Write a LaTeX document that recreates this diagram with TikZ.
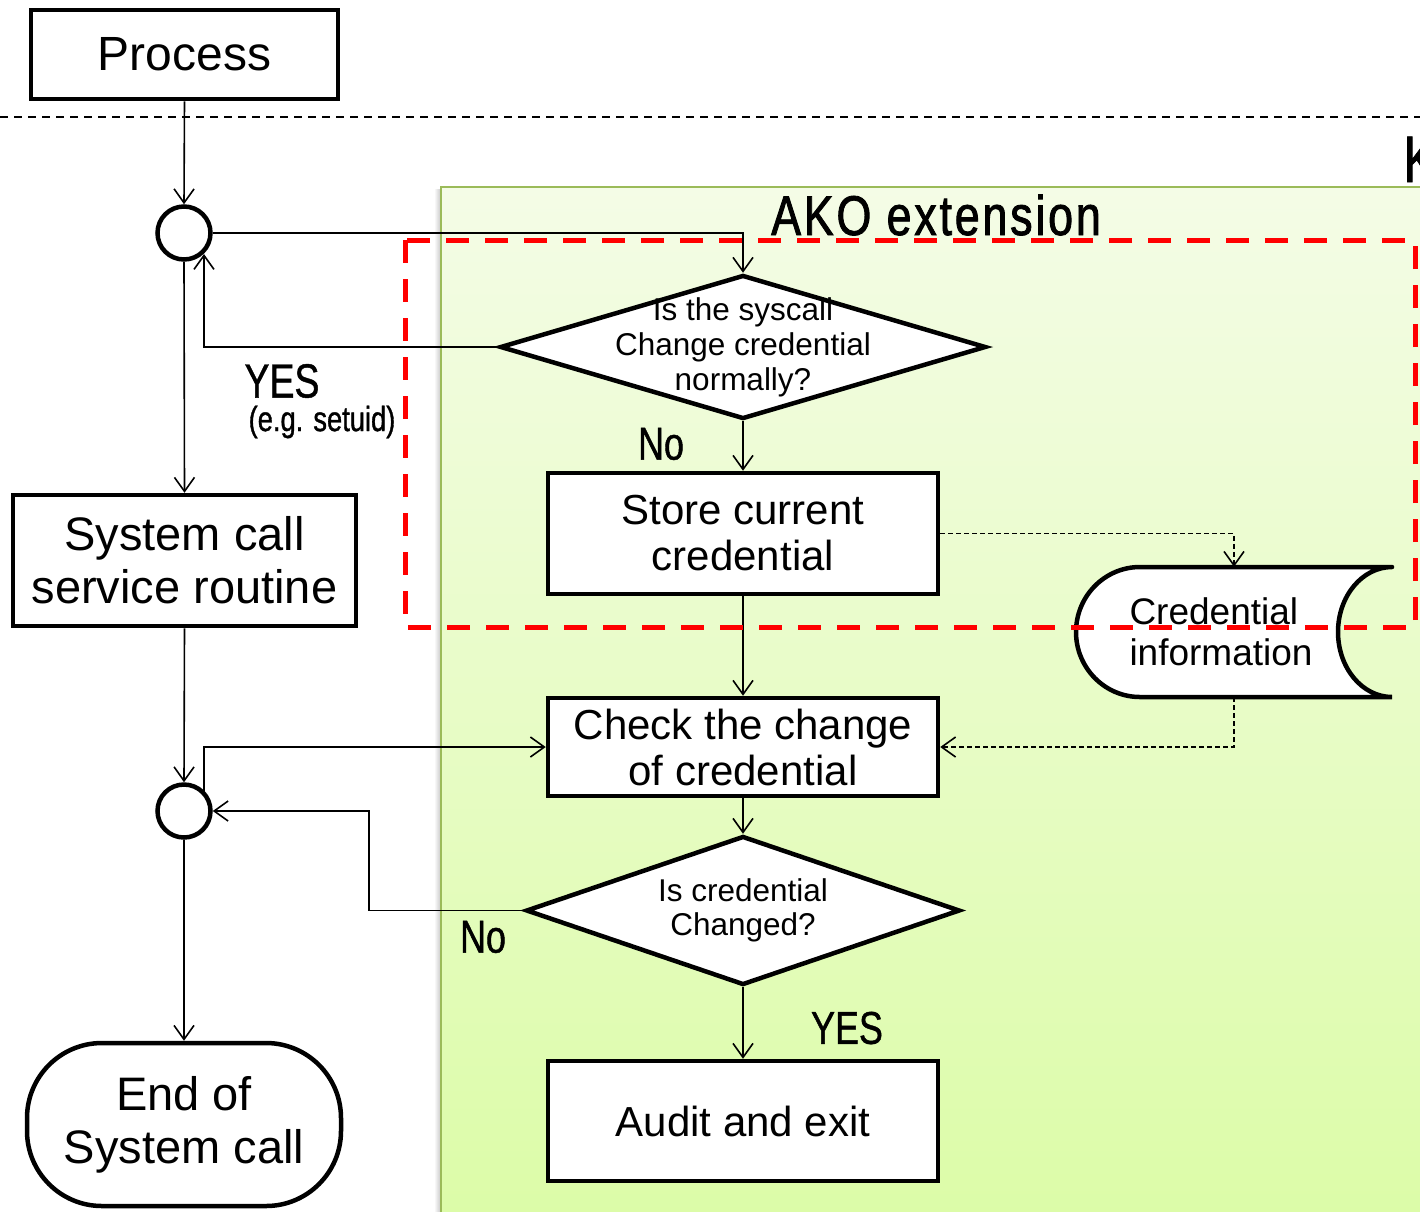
\documentclass[tikz,border=0pt]{standalone}
\usepackage{fontspec}
\setmainfont{Liberation Sans}
\newfontfamily\condfont[FakeStretch=0.78,FakeBold=1]{Liberation Sans}
\newfontfamily\akofont[FakeStretch=0.8,LetterSpace=5,FakeBold=1.5]{Liberation Sans}
\usetikzlibrary{arrows.meta,shapes.geometric,calc}
\definecolor{gtop}{HTML}{F4FCE6}
\definecolor{gbot}{HTML}{DCFCA8}
\definecolor{gborder}{HTML}{9BBB59}
\begin{document}
\begin{tikzpicture}[x=1pt,y=-1pt,
  conn/.style={line width=1.6pt,-{Straight Barb[length=14pt,width=20pt,line width=1.6pt]}},
  dconn/.style={conn,dash pattern=on 5pt off 3pt},
  box/.style={draw,line width=4.5pt,fill=white,rectangle,inner sep=0pt,align=center},
  junc/.style={draw,line width=4.5pt,fill=white,circle,minimum size=53pt,inner sep=0pt},
  dec/.style={draw,line width=4.5pt,fill=white,diamond,inner sep=0pt},
  lbl/.style={inner sep=0pt,font=\condfont\fontsize{46}{50}\selectfont},
  bigtxt/.style={font=\fontsize{47}{53}\selectfont},
  midtxt/.style={font=\fontsize{42}{46}\selectfont},
  dtxt/.style={align=center,inner sep=0pt,font=\fontsize{31.5}{35}\selectfont}
]
\useasboundingbox (0,0) rectangle (1420,1211);
\fill[white] (0,0) rectangle (1420,1211);

% kernel area and AKO region
\node[anchor=base west,inner sep=0pt,font=\condfont\fontsize{66}{70}\selectfont] (kern) at (1403,182) {K};
\shade[left color=white,right color=gray!45] (434,189) rectangle (441,1215);
\shade[top color=gtop,bottom color=gbot] (441,187) rectangle (1425,1215);
\draw[gborder,line width=2pt] (441,1215) -- (441,187) -- (1425,187);
\draw[line width=1.5pt,dash pattern=on 8pt off 6pt] (0,117) -- (1420,117);
\node[inner sep=0pt,font=\akofont\fontsize{56}{60}\selectfont] (ako) at (936,215) {AKO extension};

% nodes
\node[box,minimum width=307pt,minimum height=89pt,font=\fontsize{48}{54}\selectfont] (proc) at (184.5,54.5) {Process};
\node[junc] (c1) at (184,233) {};
\node[box,bigtxt,minimum width=343pt,minimum height=131pt] (sys) at (184.5,560.5) {System call\\service routine};
\node[junc] (c2) at (184,811) {};
\node[box,bigtxt,rounded corners=75pt,minimum width=314pt,minimum height=163pt] (endn) at (184,1124.5) {End of\\System call};

\node[dec,minimum width=486pt,minimum height=144pt,
  label={[dtxt]center:Is the syscall\\Change credential\\normally?}] (d1) at (743,347) {};
\node[box,midtxt,minimum width=390pt,minimum height=121pt] (store) at (743,533.5) {Store current\\credential};
\node[box,midtxt,minimum width=390pt,minimum height=98pt] (check) at (743,747) {Check the change\\of credential};
\node[dec,minimum width=434pt,minimum height=149pt,
  label={[dtxt,font=\fontsize{31.5}{34}\selectfont]center:Is credential\\Changed?}] (d2) at (743,910.5) {};
\node[box,midtxt,minimum width=390pt,minimum height=120pt] (audit) at (743,1121) {Audit and exit};

% credential storage
\node[inner sep=0pt,minimum width=316pt,minimum height=130pt] (cyl) at (1234,632) {};
\fill[white] (1392,567) -- (1140,567)
  .. controls (1104.7,567) and (1076,596.1) .. (1076,632)
  .. controls (1076,667.9) and (1104.7,697) .. (1140,697)
  -- (1392,697)
  .. controls (1362.2,697) and (1338,667.9) .. (1338,632)
  .. controls (1338,596.1) and (1362.2,567) .. (1392,567);
\draw[line width=4.5pt,line cap=round] (1392,567) -- (1140,567)
  .. controls (1104.7,567) and (1076,596.1) .. (1076,632)
  .. controls (1076,667.9) and (1104.7,697) .. (1140,697)
  -- (1392,697)
  .. controls (1362.2,697) and (1338,667.9) .. (1338,632)
  .. controls (1338,596.1) and (1362.2,567) .. (1392,567);
\node[inner sep=0pt,align=left,font=\fontsize{37}{41}\selectfont] (cyltxt) at (1221,632) {Credential\\information};

% connectors
\coordinate (c1in) at ($(c1.center)+(20,21)$);
\coordinate (c2out) at ($(c2.center)+(20,-20)$);
\draw[conn] (proc.south) -- (c1.north);
\draw[conn] (c1.east) -| (d1.north);
\draw[conn] (d1.west) -| (c1in);
\draw[conn] (c1.south) -- (sys.north);
\draw[conn] (d1.south) -- (store.north);
\draw[dconn] (store.east) -| (cyl.north);
\draw[conn] (store.south) -- (check.north);
\draw[dconn] (cyl.south) |- (check.east);
\draw[conn] (sys.south) -- (c2.north);
\draw[conn] (c2out) |- (check.west);
\draw[conn] (check.south) -- (d2.north);
\draw[conn] (d2.west) -- ++(-155,0) |- (c2.east);
\draw[conn] (d2.south) -- (audit.north);
\draw[conn] (c2.south) -- (endn.north);

% labels
\node[lbl,font=\condfont\fontsize{48}{52}\selectfont] (yes1) at (282,381) {YES};
\node[lbl,font=\condfont\fontsize{35}{38}\selectfont] (eg) at (322,422) {(e.g. setuid)};
\node[lbl] (no1) at (661,444) {No};
\node[lbl] (no2) at (483,937) {No};
\node[lbl] (yes2) at (847,1028) {YES};

% red dashed frame
\draw[red,line width=5pt,dash pattern=on 23pt off 16pt] (405,240) rectangle (1415,627);
\end{tikzpicture}
\end{document}
